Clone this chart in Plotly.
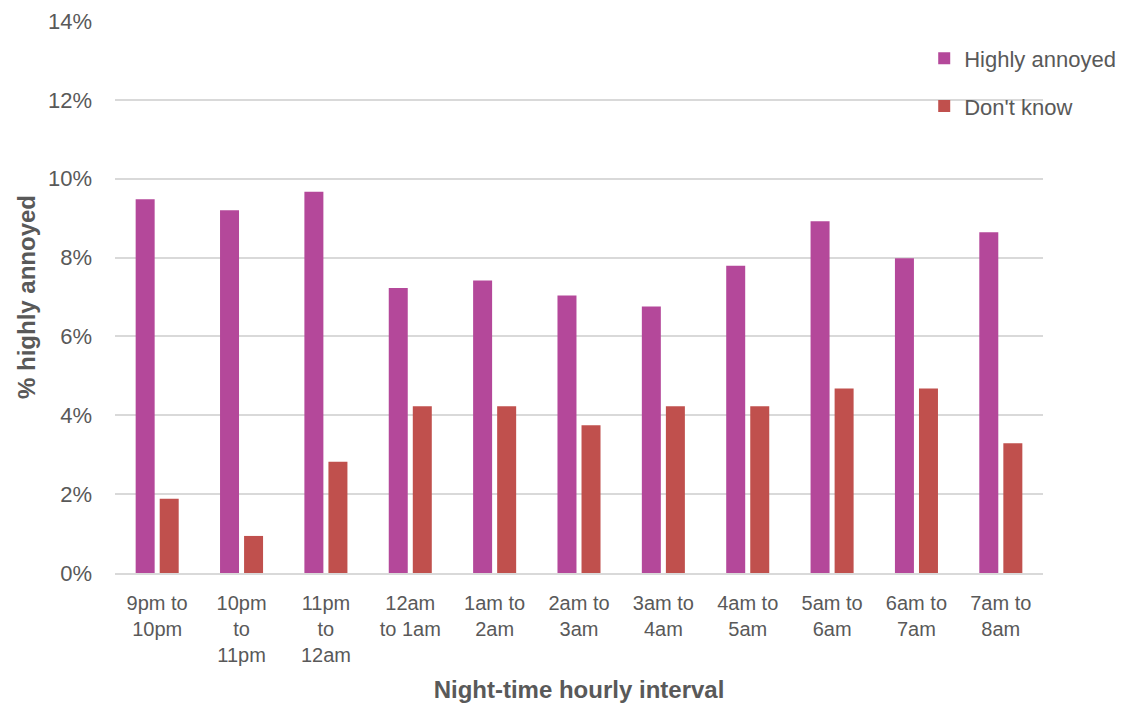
import plotly.graph_objects as go

# Night-time hourly intervals (category labels, wrapped over lines)
intervals = [
    "9pm to<br>10pm",
    "10pm<br>to<br>11pm",
    "11pm<br>to<br>12am",
    "12am<br>to 1am",
    "1am to<br>2am",
    "2am to<br>3am",
    "3am to<br>4am",
    "4am to<br>5am",
    "5am to<br>6am",
    "6am to<br>7am",
    "7am to<br>8am",
]

# Share of respondents per interval (fractions)
highly_annoyed = [0.0948, 0.0920, 0.0967, 0.0723, 0.0742, 0.0704, 0.0676, 0.0779, 0.0892, 0.0798, 0.0864]
dont_know = [0.0188, 0.0094, 0.0282, 0.0423, 0.0423, 0.0375, 0.0423, 0.0423, 0.0468, 0.0468, 0.0329]

y_ticks = [0, 0.02, 0.04, 0.06, 0.08, 0.10, 0.12, 0.14]

TEXT = "#595959"
FONT = "Liberation Sans, Arial, sans-serif"

fig = go.Figure()
fig.add_trace(go.Bar(
    name="Highly annoyed", x=intervals, y=highly_annoyed,
    marker=dict(color="#B4489A", line=dict(width=0)),
    legendgroup="a",
))
fig.add_trace(go.Bar(
    name="Don't know", x=intervals, y=dont_know,
    marker=dict(color="#C0504D", line=dict(width=0)),
    legendgroup="b",
))

fig.update_layout(
    width=1138, height=709,
    margin=dict(l=115, r=95, t=21, b=136, autoexpand=False),
    paper_bgcolor="white", plot_bgcolor="white",
    font=dict(family=FONT, color=TEXT, size=20),
    barmode="group", bargap=0.43, bargroupgap=0.21,
    legend=dict(
        x=0.872, y=0.970, xanchor="left", yanchor="top",
        bgcolor="rgba(0,0,0,0)", font=dict(size=22, color=TEXT),
        tracegroupgap=16, traceorder="grouped",
    ),
    xaxis=dict(
        type="category", showgrid=False, zeroline=False,
        showline=True, linecolor="#D9D9D9", linewidth=2,
        tickfont=dict(size=20, color=TEXT),
        ticklabelstandoff=11,
        title=dict(text="<b>Night-time hourly interval</b>",
                   font=dict(size=24, color=TEXT), standoff=16),
        automargin=False,
    ),
    yaxis=dict(
        range=[0, 0.14], tickvals=y_ticks, tickformat=".0%",
        showgrid=True, gridcolor="#D9D9D9", gridwidth=2,
        zeroline=False, showline=False,
        tickfont=dict(size=22, color=TEXT),
        ticklabelstandoff=22,
        title=dict(text="<b>% highly annoyed</b>",
                   font=dict(size=24, color=TEXT), standoff=5),
        automargin=False,
    ),
)

fig.write_html("out.html")
